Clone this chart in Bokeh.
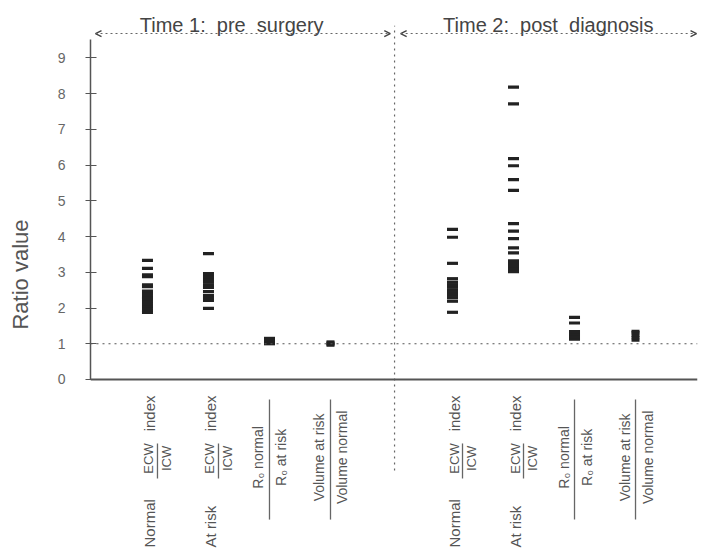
import numpy as np
from bokeh.plotting import figure
from bokeh.models import (Range1d, LinearAxis, Span, Arrow, OpenHead,
                          ColumnDataSource, FixedTicker)
from bokeh.core.properties import value
from bokeh.embed import file_html
from bokeh.resources import INLINE

# ---------------- data ----------------
time_labels = ["Time 1:\u00a0 pre\u00a0 surgery", "Time 2:\u00a0 post\u00a0 diagnosis"]

cat_prefix = ["Normal", "At risk", "", ""]
cat_num = ["ECW", "ECW", "R\u2080 normal", "Volume at risk"]
cat_den = ["ICW", "ICW", "R\u2080 at risk", "Volume normal"]
cat_suffix = ["index", "index", "", ""]

y_ticks = [0, 1, 2, 3, 4, 5, 6, 7, 8, 9]

t1_normal_ecw_icw = [1.88, 1.93, 2.0, 2.05, 2.12, 2.2, 2.26, 2.3, 2.36, 2.42,
                     2.47, 2.6, 2.65, 2.88, 2.93, 3.11, 3.33]
t1_atrisk_ecw_icw = [1.99, 2.21, 2.28, 2.35, 2.46, 2.58, 2.65, 2.72, 2.8,
                     2.88, 2.96, 3.52]
t1_r0_ratio = [1.0, 1.03, 1.06, 1.09, 1.12, 1.15]
t1_volume_ratio = [0.96, 0.99, 1.02, 1.05]

t2_normal_ecw_icw = [1.88, 2.19, 2.29, 2.36, 2.43, 2.5, 2.58, 2.65, 2.72,
                     2.82, 3.25, 3.98, 4.2]
t2_atrisk_ecw_icw = [3.02, 3.1, 3.17, 3.25, 3.32, 3.54, 3.68, 3.94, 4.15,
                     4.36, 5.29, 5.59, 5.98, 6.18, 7.71, 8.18]
t2_r0_ratio = [1.13, 1.2, 1.27, 1.34, 1.58, 1.74]
t2_volume_ratio = [1.1, 1.17, 1.24, 1.31, 1.35]

series = [t1_normal_ecw_icw, t1_atrisk_ecw_icw, t1_r0_ratio, t1_volume_ratio,
          t2_normal_ecw_icw, t2_atrisk_ecw_icw, t2_r0_ratio, t2_volume_ratio]
positions = [1, 2, 3, 4, 6, 7, 8, 9]
mark_w = [11, 11, 11, 8, 11, 11, 11, 8]

xs, ys, ws = [], [], []
for pos, vals, w in zip(positions, series, mark_w):
    xs += [pos] * len(vals)
    ys += vals
    ws += [w] * len(vals)
src = ColumnDataSource(dict(x=xs, y=ys, w=ws))

FONT = value("Liberation Sans")
TXT = "#555555"
PX = 1.0 / 61.0  # one screen pixel in x data units

p = figure(width=700, height=548,
           x_range=Range1d(0.066, 10.016), y_range=Range1d(-4.729, 10.604),
           output_backend="svg", toolbar_location=None,
           x_axis_type=None, min_border_left=90, min_border_right=3,
           min_border_top=0, min_border_bottom=0)
p.grid.visible = False
p.outline_line_color = None
p.background_fill_color = "white"
p.border_fill_color = "white"

# y axis
ya = p.yaxis[0]
ya.ticker = FixedTicker(ticks=y_ticks)
ya.bounds = (0, 9.5)
ya.major_tick_in = 6
ya.major_tick_out = 5
ya.minor_tick_line_color = None
ya.axis_line_color = "#555555"
ya.axis_line_width = 1.5
ya.major_tick_line_color = "#555555"
ya.major_tick_line_width = 1.2
ya.major_label_text_font = "Liberation Sans"
ya.major_label_text_font_size = "14px"
ya.major_label_text_color = "#666666"
ya.major_label_standoff = 20
ya.axis_label = "Ratio value"
ya.axis_label_text_font = "Liberation Sans"
ya.axis_label_text_font_style = "normal"
ya.axis_label_text_font_size = "22px"
ya.axis_label_text_color = TXT
ya.axis_label_standoff = 22

# x axis line at y = 0
xa = LinearAxis(fixed_location=0, ticker=FixedTicker(ticks=[]),
                major_label_text_font_size="0px",
                major_tick_line_color=None, minor_tick_line_color=None,
                axis_line_color="#555555", axis_line_width=2)
p.add_layout(xa, "below")

# reference line at 1
p.add_layout(Span(location=1, dimension="width", line_color="#555555",
                  line_dash="2 4", line_width=1.2))

# vertical divider
p.segment(x0=[5.05], y0=[-2.55], x1=[5.05], y1=[9.9],
          line_color="#666666", line_dash="2 4", line_width=1.2)

# arrows for time periods
for xs_, xe_ in [(0.148, 4.98), (5.15, 10.0)]:
    p.add_layout(Arrow(start=OpenHead(size=6, line_color="#444444", line_width=1.4),
                       end=OpenHead(size=6, line_color="#444444", line_width=1.4),
                       x_start=xs_, y_start=9.68, x_end=xe_, y_end=9.68,
                       line_color="#666666", line_dash="2 3", line_width=1.2))

# period titles
p.text(x=[2.38, 7.57], y=[9.905, 9.905], text=time_labels,
       text_align="center", text_baseline="alphabetic", text_font=FONT,
       text_font_size="20px", text_color="#444444")

# data marks
p.rect(x="x", y="y", width="w", height=3.2, width_units="screen",
       height_units="screen", source=src, fill_color="#222222",
       line_color=None)

# category labels (rotated fractions)
w_x, w_y, w_t = [], [], []      # bottom words (left aligned)
s_x, s_y, s_t = [], [], []      # suffix words
f_x, f_y, f_t = [], [], []      # ECW / ICW
r_x, r_y, r_t = [], [], []      # ratio texts
b_x, b_y0, b_y1 = [], [], []    # fraction bars
for i, pos in enumerate(positions):
    k = i % 4
    if cat_prefix[k]:
        w_x.append(pos + 2 * PX); w_y.append(-4.70); w_t.append(cat_prefix[k])
        s_x.append(pos + 2 * PX); s_y.append(-0.95); s_t.append(cat_suffix[k])
        f_x += [pos + 1.5 * PX, pos + 19 * PX]
        f_y += [-2.21, -2.21]
        f_t += [cat_num[k], cat_den[k]]
        b_x.append(pos + 10 * PX); b_y0.append(-1.79); b_y1.append(-2.77)
    else:
        r_x += [pos - 11 * PX, pos + 12 * PX]
        r_y += [-2.18, -2.18]
        r_t += [cat_num[k], cat_den[k]]
        b_x.append(pos); b_y0.append(-0.56); b_y1.append(-3.92)

ang = np.pi / 2
p.text(x=w_x, y=w_y, text=w_t, angle=ang, text_align="left",
       text_baseline="middle", text_font=FONT, text_font_size="15px",
       text_color=TXT)
p.text(x=s_x, y=s_y, text=s_t, angle=ang, text_align="center",
       text_baseline="middle", text_font=FONT, text_font_size="15px",
       text_color=TXT)
p.text(x=f_x, y=f_y, text=f_t, angle=ang, text_align="center",
       text_baseline="middle", text_font=FONT, text_font_size="13px",
       text_color=TXT)
p.text(x=r_x, y=r_y, text=r_t, angle=ang, text_align="center",
       text_baseline="middle", text_font=FONT, text_font_size="14px",
       text_color=TXT)
p.segment(x0=b_x, y0=b_y0, x1=b_x, y1=b_y1, line_color="#666666",
          line_width=1.3)

open("out.html", "w").write(file_html(p, INLINE))
